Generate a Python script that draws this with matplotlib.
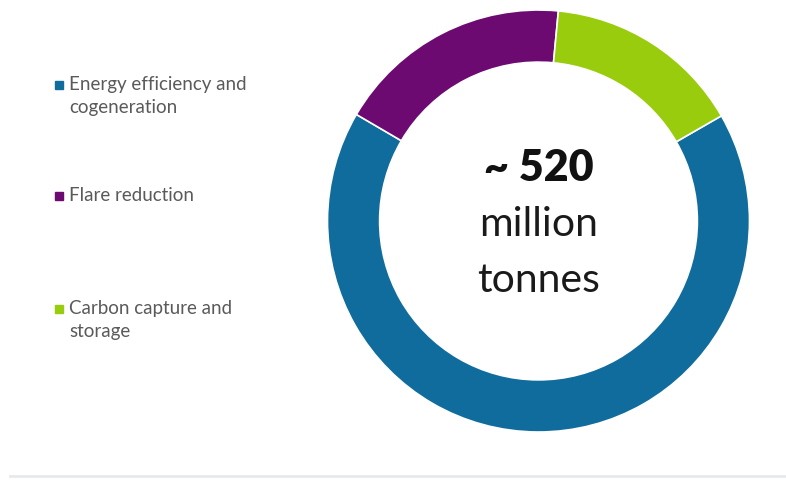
import matplotlib.pyplot as plt
from matplotlib.patches import Rectangle
from matplotlib.lines import Line2D

# emission reductions, million tonnes
labels = ['Energy efficiency and\ncogeneration', 'Flare reduction', 'Carbon capture and\nstorage']
values = [347, 94, 79]
colors = ['#106c9c', '#6c0a72', '#98cc0c']
total_text = '~ 520'

W, H = 786, 487
fig = plt.figure(figsize=(W / 100, H / 100), dpi=100)
fig.patch.set_facecolor('white')

# donut centre (538.5, 221) px, outer radius 211 px
cx, cy, r = 538.5, 221, 211
ax = fig.add_axes([(cx - r) / W, (H - cy - r) / H, 2 * r / W, 2 * r / H])
ax.pie(values, colors=colors, startangle=29.9, counterclock=False, radius=1,
       wedgeprops=dict(width=0.247, edgecolor='white', linewidth=1.2))
ax.set_xlim(-1, 1)
ax.set_ylim(-1, 1)
ax.axis('off')

ax.text(0, (cy - 181) / r, total_text, ha='center', va='baseline',
        fontsize=31, fontweight='heavy', family='Lato', color='#111111')
ax.text(0, (cy - 236) / r, 'million', ha='center', va='baseline',
        fontsize=29.5, family='Lato', color='#1a1a1a')
ax.text(0, (cy - 292) / r, 'tonnes', ha='center', va='baseline',
        fontsize=29.5, family='Lato', color='#1a1a1a')

# legend on the left, one text per line
legend_y = [90, 201, 314]
for lab, col, y in zip(labels, colors, legend_y):
    fig.add_artist(Rectangle((55 / W, 1 - (y - 1) / H), 8 / W, 8 / H,
                             transform=fig.transFigure, color=col))
    for i, line in enumerate(lab.split('\n')):
        fig.text(69 / W, 1 - (y + 23 * i) / H, line, ha='left', va='baseline',
                 fontsize=13.5, family='Lato', color='#5a5a5a')

# thin rule along the bottom
fig.add_artist(Line2D([10 / W, 1], [1 - 476 / H] * 2, transform=fig.transFigure,
                      color='#e6eaec', linewidth=2))

fig.savefig('out.png', dpi=100, facecolor='white')
